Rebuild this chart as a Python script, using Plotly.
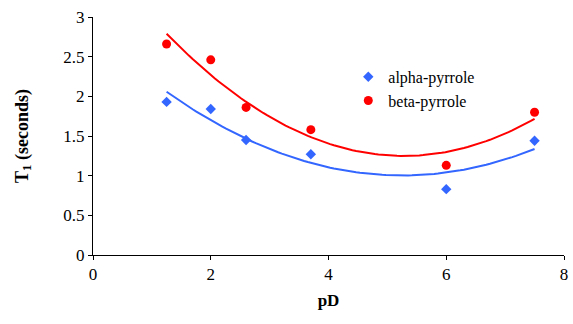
import numpy as np
import plotly.graph_objects as go

pD = [1.25, 2.0, 2.6, 3.7, 6.0, 7.5]
alpha = [1.93, 1.84, 1.45, 1.27, 0.83, 1.44]
beta = [2.66, 2.46, 1.86, 1.58, 1.13, 1.80]

BLUE = "#3366FF"
RED = "#FF0000"
FONT = "Liberation Serif"

xs = np.linspace(min(pD), max(pD), 100)
fa = np.polyval(np.polyfit(pD, alpha, 2), xs)
fb = np.polyval(np.polyfit(pD, beta, 2), xs)

fig = go.Figure()
fig.add_trace(go.Scatter(x=xs, y=fa, mode="lines", line=dict(color=BLUE, width=2), showlegend=False, hoverinfo="skip"))
fig.add_trace(go.Scatter(x=xs, y=fb, mode="lines", line=dict(color=RED, width=2), showlegend=False, hoverinfo="skip"))
fig.add_trace(go.Scatter(x=pD, y=alpha, mode="markers", name="alpha-pyrrole",
                         marker=dict(symbol="diamond", size=8, color=BLUE)))
fig.add_trace(go.Scatter(x=pD, y=beta, mode="markers", name="beta-pyrrole",
                         marker=dict(symbol="circle", size=9, color=RED)))

fig.update_layout(
    width=573, height=324,
    margin=dict(l=93, r=5, t=17, b=69),
    paper_bgcolor="white", plot_bgcolor="white",
    font=dict(family=FONT, size=16, color="black"),
    legend=dict(x=0.542, y=0.82, xanchor="left", yanchor="top",
                bgcolor="rgba(0,0,0,0)", font=dict(family=FONT, size=16), itemwidth=30,
                tracegroupgap=0),
    xaxis=dict(range=[0, 8], dtick=2, showline=True, linecolor="black", linewidth=1,
               ticks="outside", ticklen=4, tickcolor="black", showgrid=False, zeroline=False,
               tickfont=dict(family=FONT, size=17),
               title=dict(text="<b>pD</b>", font=dict(family=FONT, size=17), standoff=10)),
    yaxis=dict(range=[0, 3], dtick=0.5, showline=True, linecolor="black", linewidth=1,
               ticks="outside", ticklen=4, tickcolor="black", showgrid=False, zeroline=False,
               tickfont=dict(family=FONT, size=17),
               title=dict(text="<b>T<sub>1</sub> (seconds)</b>", font=dict(family=FONT, size=18), standoff=30)),
)

fig.write_html("out.html")
